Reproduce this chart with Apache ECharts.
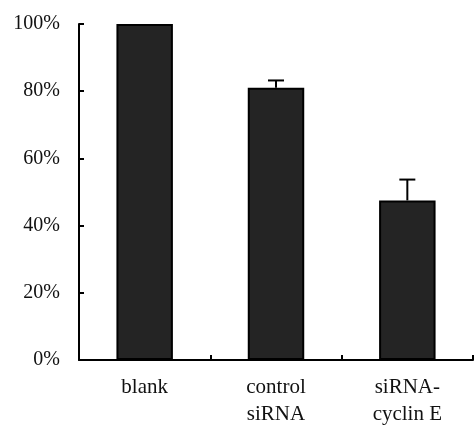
<!DOCTYPE html>
<html><head><meta charset="utf-8">
<script src="https://cdn.jsdelivr.net/npm/echarts@6/dist/echarts.min.js"></script>
<style>html,body{margin:0;padding:0;background:#fff}#c{width:474px;height:428px}</style>
</head><body><div id="c"></div>
<script>
var categories = ['blank', 'control\nsiRNA', 'siRNA-\ncyclin E'];
var values = [100, 81, 47.5];
var errors = [0, 2.2, 6.2];
var yTicks = [0, 20, 40, 60, 80, 100];

var chart = echarts.init(document.getElementById('c'));
var font = 'Liberation Serif, Times New Roman, serif';
chart.setOption({
  animation: false,
  grid: {left: 79, right: 1, top: 24, bottom: 61},
  xAxis: {
    type: 'category', data: categories,
    axisLine: {lineStyle: {color: '#000', width: 2}},
    axisTick: {show: true, inside: true, length: 5, alignWithLabel: false, lineStyle: {color: '#000', width: 2}},
    axisLabel: {color: '#111', fontFamily: font, fontSize: 21, lineHeight: 27, margin: 14}
  },
  yAxis: {
    type: 'value', min: 0, max: 100, interval: 20,
    axisLine: {show: true, lineStyle: {color: '#000', width: 2}},
    axisTick: {show: true, inside: true, length: 5, lineStyle: {color: '#000', width: 2}},
    splitLine: {show: false},
    axisLabel: {color: '#111', fontFamily: font, fontSize: 20, margin: 19,
      formatter: function (v) { return yTicks.indexOf(v) >= 0 ? v + '%' : ''; }}
  },
  series: [{
    type: 'bar', data: values, barWidth: '43%',
    itemStyle: {color: '#242424', borderColor: '#000', borderWidth: 2}
  }, {
    type: 'custom',
    data: values.map(function (v, i) { return [i, v, v + errors[i]]; }),
    renderItem: function (params, api) {
      var x = api.value(0);
      if (api.value(2) <= api.value(1)) return null;
      var p0 = api.coord([x, api.value(1)]);
      var p1 = api.coord([x, api.value(2)]);
      var hw = 8;
      var st = {stroke: '#000', lineWidth: 2};
      return {type: 'group', children: [
        {type: 'line', shape: {x1: p0[0], y1: p0[1], x2: p1[0], y2: p1[1]}, style: st},
        {type: 'line', shape: {x1: p1[0] - hw, y1: p1[1], x2: p1[0] + hw, y2: p1[1]}, style: st}
      ]};
    },
    z: 3
  }]
});
</script></body></html>
